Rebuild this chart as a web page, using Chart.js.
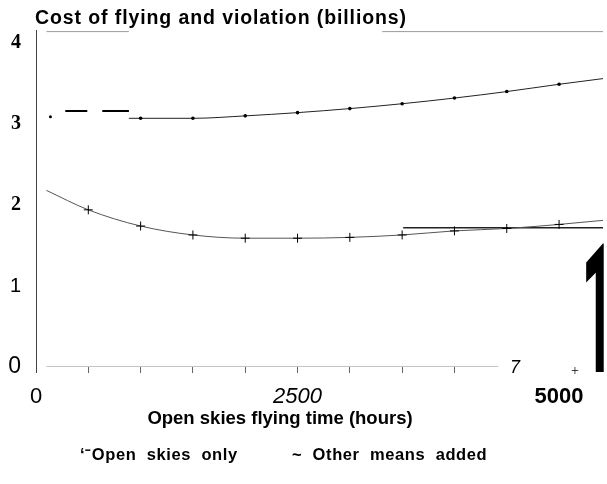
<!DOCTYPE html>
<html>
<head>
<meta charset="utf-8">
<script src="https://cdn.jsdelivr.net/npm/chart.js@4.4.0/dist/chart.umd.min.js"></script>
<style>
  html, body { margin: 0; padding: 0; background: #fff; }
</style>
</head>
<body>
<canvas id="myChart" width="607" height="484"></canvas>
<script>
// Flying hours on x, cost in billions on y
var lowerHours = [100, 500, 1000, 1500, 2000, 2500, 3000, 3500, 4000, 4500, 5000, 5420];
var lowerCost  = [2.18, 1.94, 1.74, 1.63, 1.59, 1.59, 1.60, 1.63, 1.68, 1.71, 1.76, 1.81];

var upperHours = [888, 1000, 1500, 2000, 2500, 3000, 3500, 4000, 4500, 5000, 5420];
var upperCost  = [3.07, 3.07, 3.07, 3.10, 3.14, 3.19, 3.25, 3.32, 3.40, 3.49, 3.56];

var otherHours = [3510, 5420];
var otherCost  = [1.72, 1.72];

var dashHours = [280, 888];
var dashCost  = [3.16, 3.16];

var dotHours = [138];
var dotCost  = [3.09];

var frameHours = [100, 888, 2000, 3310, 5420];
var frameCost  = [4.14, 4.14, null, 4.14, 4.14];

var zeroHours = [100, 4420];
var zeroCost  = [0, 0];

var yTicks = [0, 1, 2, 3, 4];
var yTickLabels = ['0', '1', '2', '3', '4'];
var xTicks = [0, 500, 1000, 1500, 2000, 2500, 3000, 3500, 4000, 4500, 5000];
var xTickLabels = ['0', '', '', '', '', '2500', '', '', '', '', '5000'];

function pts(xs, ys) {
    return xs.map(function (x, i) { return { x: x, y: ys[i] }; });
}

// no marker on the first/last point of a curve
function innerRadius(r) {
    return function (ctx) {
        var n = ctx.dataset.data.length;
        return (ctx.dataIndex === 0 || ctx.dataIndex === n - 1) ? 0 : r;
    };
}

var yFonts = {
    0: { family: 'Liberation Sans', size: 23, weight: 'normal' },
    1: { family: 'Liberation Sans', size: 20, weight: 'normal' },
    2: { family: 'Liberation Serif', size: 20, weight: 'bold' },
    3: { family: 'Liberation Serif', size: 20, weight: 'bold' },
    4: { family: 'Liberation Serif', size: 20, weight: 'bold' }
};
var xFonts = {
    0: { family: 'Liberation Sans', size: 22, weight: 'normal' },
    2500: { family: 'Liberation Sans', size: 22, style: 'italic', weight: 'normal' },
    5000: { family: 'Liberation Sans', size: 22, weight: 'bold' }
};

var textPlugin = {
    id: 'textPlugin',
    afterDraw: function (chart) {
        var ctx = chart.ctx;
        ctx.save();
        ctx.fillStyle = '#000';
        ctx.textBaseline = 'alphabetic';

        ctx.font = 'bold 19.5px "Liberation Sans"';
        ctx.letterSpacing = '0.9px';
        ctx.textAlign = 'left';
        ctx.fillText('Cost of flying and violation (billions)', 35, 24);

        ctx.font = 'bold 18.5px "Liberation Sans"';
        ctx.letterSpacing = '0px';
        ctx.textAlign = 'center';
        ctx.fillText('Open skies flying time (hours)', 280, 424);

        ctx.font = 'bold 16.5px "Liberation Sans"';
        ctx.letterSpacing = '0.6px';
        ctx.textAlign = 'left';
        ctx.fillText('\u2018\u207BOpen  skies  only', 80, 460);
        ctx.fillText('~  Other  means  added', 292, 460);

        ctx.letterSpacing = '0px';
        ctx.font = 'italic 18px "Liberation Sans"';
        ctx.fillText('7', 510, 373);
        ctx.font = '14px "Liberation Serif"';
        ctx.fillText('+', 571, 375);

        // tall narrow "1" at the right edge
        ctx.font = 'bold 180px Roboto';
        var m = ctx.measureText('1');
        var gw = m.actualBoundingBoxLeft + m.actualBoundingBoxRight;
        var gh = m.actualBoundingBoxAscent + m.actualBoundingBoxDescent;
        var sx = 18 / gw, sy = 129 / gh;
        ctx.translate(586, 243);
        ctx.scale(sx, sy);
        ctx.fillText('1', m.actualBoundingBoxLeft, m.actualBoundingBoxAscent);
        ctx.restore();
    }
};

window.onload = function () {
    var ctx = document.getElementById('myChart').getContext('2d');
    new Chart(ctx, {
        type: 'line',
        data: {
            datasets: [{
                data: pts(frameHours, frameCost),
                borderColor: '#999',
                borderWidth: 1,
                pointRadius: 0,
                spanGaps: false
            }, {
                data: pts(zeroHours, zeroCost),
                borderColor: '#888',
                borderWidth: 1,
                pointRadius: 0
            }, {
                label: 'Other means added',
                data: pts(upperHours, upperCost),
                borderColor: '#222',
                borderWidth: 1,
                cubicInterpolationMode: 'monotone',
                pointRadius: innerRadius(1.8),
                pointBackgroundColor: '#000',
                pointBorderWidth: 0
            }, {
                label: 'Open skies only',
                data: pts(lowerHours, lowerCost),
                borderColor: '#555',
                borderWidth: 1,
                cubicInterpolationMode: 'monotone',
                pointStyle: 'cross',
                pointRadius: innerRadius(4.5),
                pointBorderColor: '#000',
                pointBorderWidth: 1
            }, {
                data: pts(otherHours, otherCost),
                borderColor: '#222',
                borderWidth: 1.5,
                pointRadius: 0
            }, {
                data: pts(dashHours, dashCost),
                borderColor: '#000',
                borderWidth: 2,
                borderDash: [22, 15, 27, 100],
                pointRadius: 0
            }, {
                data: pts(dotHours, dotCost),
                showLine: false,
                pointRadius: 1.5,
                pointBackgroundColor: '#000',
                pointBorderWidth: 0
            }]
        },
        options: {
            responsive: false,
            animation: false,
            devicePixelRatio: 1,
            layout: { padding: { top: 30, left: 0, right: 0, bottom: 0 } },
            plugins: {
                legend: { display: false },
                tooltip: { enabled: false }
            },
            scales: {
                x: {
                    type: 'linear',
                    min: 0,
                    max: 5420,
                    afterBuildTicks: function (scale) {
                        scale.ticks = xTicks.map(function (v) { return { value: v }; });
                    },
                    afterFit: function (scale) { scale.height = 117; },
                    ticks: {
                        autoSkip: false,
                        maxRotation: 0,
                        padding: 11,
                        color: '#000',
                        callback: function (v, i) { return xTickLabels[i]; },
                        font: function (c) { return xFonts[c.tick && c.tick.value] || xFonts[0]; }
                    },
                    grid: {
                        drawOnChartArea: false,
                        drawTicks: true,
                        tickLength: 6,
                        tickColor: function (c) {
                            var v = c.tick && c.tick.value;
                            if (v === 0) return '#444';
                            return v <= 4000 ? '#666' : 'rgba(0,0,0,0)';
                        }
                    },
                    border: { display: false }
                },
                y: {
                    min: 0,
                    max: 4.16,
                    afterBuildTicks: function (scale) {
                        scale.ticks = yTicks.map(function (v) { return { value: v }; });
                    },
                    afterFit: function (scale) { scale.width = 36; },
                    ticks: {
                        padding: 15,
                        color: '#000',
                        callback: function (v, i) { return yTickLabels[i]; },
                        font: function (c) { return yFonts[c.tick && c.tick.value] || yFonts[0]; }
                    },
                    grid: { drawOnChartArea: false, drawTicks: false },
                    border: { display: true, color: '#444', width: 1 }
                }
            }
        },
        plugins: [textPlugin]
    });
};
</script>
</body>
</html>
